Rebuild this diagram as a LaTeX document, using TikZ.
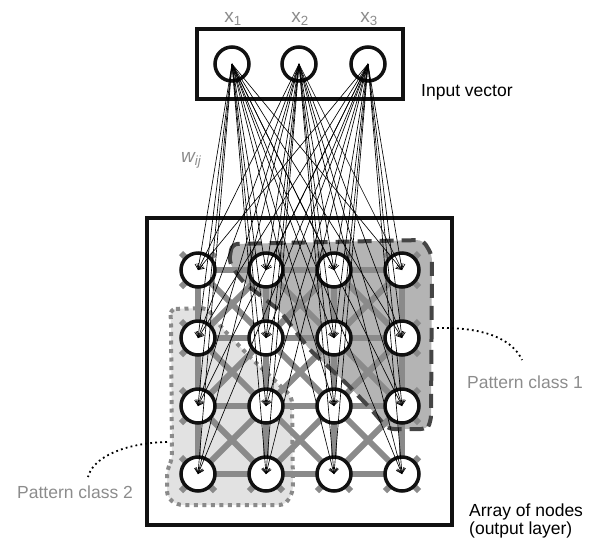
\documentclass[tikz,border=0pt]{standalone}
\usepackage{fontspec}
\setmainfont{Liberation Sans}
\usetikzlibrary{arrows.meta}
\definecolor{gridgray}{HTML}{8A8A8A}
\definecolor{labelgray}{HTML}{8C8C8C}
\definecolor{classonefill}{HTML}{B4B4B4}
\definecolor{classtwofill}{HTML}{E2E2E2}
\definecolor{classoneline}{HTML}{454545}
\definecolor{classtwoline}{HTML}{8A8A8A}
\definecolor{inkblack}{HTML}{111111}
\begin{document}
\begin{tikzpicture}[x=1pt,y=-1pt,
  framebox/.style={draw=inkblack, line width=3.5pt, inner sep=0pt},
  neuron/.style={circle, draw=inkblack, line width=3.5pt, fill=white, minimum size=34pt, inner sep=0pt},
  gridline/.style={draw=gridgray, line width=6pt},
  weight/.style={draw=black, line width=0.65pt, -{Straight Barb[length=5pt,width=8pt]}},
  lbl/.style={font=\fontsize{17.5}{21}\selectfont, inner sep=0pt},
  graylbl/.style={lbl, text=labelgray},
  inlbl/.style={graylbl, font=\fontsize{19}{22}\selectfont, anchor=base},
  classone/.style={fill=classonefill, rounded corners=6pt},
  classoneborder/.style={draw=classoneline, line width=4pt, dash pattern=on 14pt off 8pt, rounded corners=6pt},
  classtwo/.style={fill=classtwofill, rounded corners=6pt},
  classtwoborder/.style={draw=classtwoline, line width=4pt, dash pattern=on 4pt off 4.5pt, rounded corners=6pt},
  callout/.style={draw=black, line width=1.8pt, dash pattern=on 1.8pt off 3.2pt}
]
\useasboundingbox (0,0) rectangle (594,542);

% frames
\node[framebox, minimum width=206pt, minimum height=70pt] (inbox) at (300,64) {};
\node[framebox, minimum width=305pt, minimum height=307pt] (outbox) at (299.5,371.5) {};

% grid coordinates
\foreach \r in {1,...,4}
  \foreach \c in {1,...,4}
    \coordinate (p\r\c) at ({198+68*(\c-1)},{270+68*(\r-1)});

% pattern class regions (fills)
\path[classone] (232,244) -- (229,262) -- (242,281) -- (280,311) -- (310,350) -- (347,384)
  -- (370,408) -- (388,429) -- (427,429) -- (431,421) -- (432,255) -- (423,240) -- cycle;
\path[classtwo] (170,309) -- (207,308) -- (222,328) -- (250,357) -- (270,376) -- (292,397)
  -- (293,492) -- (285,505) -- (177,505) -- (167,497) -- (167,470) -- (172,460) -- (171,320) -- cycle;

% lattice
\foreach \r in {1,...,4}
  \foreach \c/\n in {1/2,2/3,3/4}
    \draw[gridline] (p\r\c) -- (p\r\n);
\foreach \c in {1,...,4}
  \foreach \r/\n in {1/2,2/3,3/4}
    \draw[gridline] (p\r\c) -- (p\n\c);
\foreach \r/\n in {1/2,2/3,3/4}
  \foreach \c/\m in {1/2,2/3,3/4} {
    \draw[gridline] (p\r\c) -- (p\n\m);
    \draw[gridline] (p\r\m) -- (p\n\c);
  }
\foreach \r in {1,...,4}
  \foreach \c in {1,...,4}
    \foreach \dr in {-1,1}
      \foreach \dc in {-1,1} {
        \pgfmathtruncatemacro\rowN{\r+\dr}
        \pgfmathtruncatemacro\colN{\c+\dc}
        \pgfmathtruncatemacro\isout{(\rowN<1)||(\rowN>4)||(\colN<1)||(\colN>4)}
        \ifnum\isout=1 \draw[gridline] (p\r\c) -- ++(17*\dc,17*\dr); \fi
      }

% pattern class borders
\draw[classoneborder] (232,244) -- (229,262) -- (242,281) -- (280,311) -- (310,350) -- (347,384)
  -- (370,408) -- (388,429) -- (427,429) -- (431,421) -- (432,255) -- (423,240) -- cycle;
\draw[classtwoborder] (170,309) -- (207,308) -- (222,328) -- (250,357) -- (270,376) -- (292,397)
  -- (293,492) -- (285,505) -- (177,505) -- (167,497) -- (167,470) -- (172,460) -- (171,320) -- cycle;

% neurons
\node[neuron] (in1) at (232,64) {};
\node[neuron] (in2) at (299,64) {};
\node[neuron] (in3) at (368,64) {};
\foreach \r in {1,...,4}
  \foreach \c in {1,...,4}
    \node[neuron] (o\r\c) at (p\r\c) {};

% weights
\foreach \k in {1,2,3}
  \foreach \r in {1,...,4}
    \foreach \c in {1,...,4}
      \draw[weight] (in\k.center) -- (o\r\c.center);

% labels
\node[inlbl] (lx1) at (233,22) {x\textsubscript{1}};
\node[inlbl] (lx2) at (300,22) {x\textsubscript{2}};
\node[inlbl] (lx3) at (369,22) {x\textsubscript{3}};
\node[graylbl, font=\fontsize{19}{22}\selectfont\itshape, anchor=base west] (lw) at (181,162) {w\textsubscript{ij}};
\node[lbl, anchor=base west] (linput) at (421,96) {Input vector};
\node[lbl, anchor=base west] (larray) at (469,516) {Array of nodes};
\node[lbl, anchor=base west] (lout) at (469,534) {(output layer)};
\node[graylbl, anchor=base west] (lpc1) at (467,388) {Pattern class 1};
\node[graylbl, anchor=base west] (lpc2) at (17,498) {Pattern class 2};

% callouts
\coordinate (c1a) at (437,328);
\coordinate (c1b) at (522,360);
\draw[callout] (c1a) .. controls (482,327) and (512,338) .. (c1b);
\coordinate (c2a) at (167,442);
\coordinate (c2b) at (88,477);
\draw[callout] (c2a) .. controls (125,443) and (93,457) .. (c2b);
\end{tikzpicture}
\end{document}
